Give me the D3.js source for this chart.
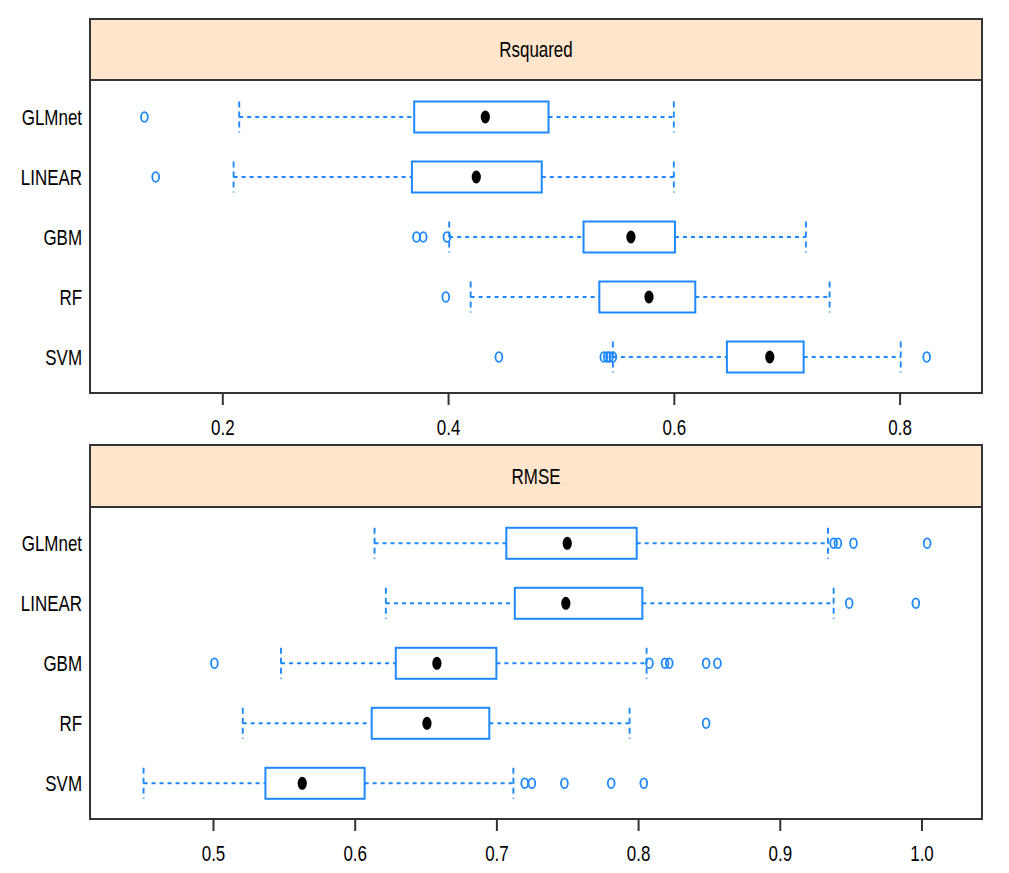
<!DOCTYPE html>
<html>
<head>
<meta charset="utf-8">
<script src="https://cdn.jsdelivr.net/npm/d3@7"></script>
<style>
  body { margin: 0; background: #fff; }
  text { font-family: "Liberation Sans", Arial, sans-serif; fill: #000; }
</style>
</head>
<body>
<script>
// models, top to bottom
var models = ["GLMnet", "LINEAR", "GBM", "RF", "SVM"];

// Rsquared: [lower whisker, q1, median, q3, upper whisker]
var rsqStats = [
  [0.215, 0.370, 0.433, 0.489, 0.600],
  [0.210, 0.368, 0.425, 0.483, 0.600],
  [0.401, 0.520, 0.562, 0.601, 0.717],
  [0.420, 0.534, 0.578, 0.619, 0.738],
  [0.546, 0.647, 0.685, 0.715, 0.801]
];
var rsqOutliers = [
  [0.131],
  [0.141],
  [0.372, 0.378, 0.399],
  [0.398],
  [0.445, 0.538, 0.541, 0.543, 0.546, 0.824]
];
var rsqTicks = [0.2, 0.4, 0.6, 0.8];

// RMSE
var rmseStats = [
  [0.614, 0.707, 0.750, 0.799, 0.934],
  [0.622, 0.713, 0.749, 0.803, 0.938],
  [0.548, 0.629, 0.658, 0.700, 0.806],
  [0.521, 0.612, 0.651, 0.695, 0.794],
  [0.451, 0.537, 0.563, 0.607, 0.712]
];
var rmseOutliers = [
  [0.938, 0.941, 0.952, 1.004],
  [0.949, 0.996],
  [0.501, 0.808, 0.819, 0.822, 0.848, 0.856],
  [0.848],
  [0.720, 0.725, 0.748, 0.781, 0.804]
];
var rmseTicks = [0.5, 0.6, 0.7, 0.8, 0.9, 1.0];

var blue = "#1e88ff";

var svg = d3.select("body").append("svg")
    .attr("width", 1009)
    .attr("height", 873);

function panel(opt) {
  var x = d3.scaleLinear().domain(opt.domain).range([90, 982]);
  var y = d3.scalePoint().domain(models).range(opt.rows);
  var g = svg.append("g");
  var boxH = 31;

  // strip
  g.append("rect")
      .attr("x", 90).attr("y", opt.top)
      .attr("width", 892).attr("height", opt.stripBottom - opt.top)
      .attr("fill", "#ffe5cc");
  g.append("line")
      .attr("x1", 90).attr("x2", 982)
      .attr("y1", opt.stripBottom).attr("y2", opt.stripBottom)
      .attr("stroke", "#333").attr("stroke-width", 2);
  g.append("g")
      .attr("transform", "translate(536," + ((opt.top + opt.stripBottom) / 2) + ")")
    .append("text")
      .attr("transform", "scale(0.77,1)")
      .attr("text-anchor", "middle")
      .attr("dy", "0.36em")
      .style("font-size", "22px")
      .text(opt.title);

  // y labels
  g.selectAll(".ylab").data(models).enter()
    .append("g")
      .attr("transform", function(d) { return "translate(82," + y(d) + ")"; })
    .append("text")
      .attr("transform", "scale(0.77,1)")
      .attr("text-anchor", "end")
      .attr("dy", "0.36em")
      .style("font-size", "22px")
      .text(function(d) { return d; });

  var rows = g.selectAll(".row").data(models).enter()
    .append("g")
      .attr("transform", function(d) { return "translate(0," + y(d) + ")"; });

  // whiskers
  rows.append("line")
      .attr("x1", function(d, i) { return x(opt.stats[i][0]); })
      .attr("x2", function(d, i) { return x(opt.stats[i][1]); })
      .attr("stroke", blue).attr("stroke-width", 1.9)
      .attr("stroke-dasharray", "4,4");
  rows.append("line")
      .attr("x1", function(d, i) { return x(opt.stats[i][3]); })
      .attr("x2", function(d, i) { return x(opt.stats[i][4]); })
      .attr("stroke", blue).attr("stroke-width", 1.9)
      .attr("stroke-dasharray", "4,4");
  [0, 4].forEach(function(k) {
    rows.append("line")
        .attr("x1", function(d, i) { return x(opt.stats[i][k]); })
        .attr("x2", function(d, i) { return x(opt.stats[i][k]); })
        .attr("y1", -boxH / 2).attr("y2", boxH / 2)
        .attr("stroke", blue).attr("stroke-width", 1.9)
        .attr("stroke-dasharray", "6,4");
  });

  // boxes
  rows.append("rect")
      .attr("x", function(d, i) { return x(opt.stats[i][1]); })
      .attr("width", function(d, i) { return x(opt.stats[i][3]) - x(opt.stats[i][1]); })
      .attr("y", -boxH / 2).attr("height", boxH)
      .attr("fill", "none").attr("stroke", blue).attr("stroke-width", 2);

  // medians
  rows.append("ellipse")
      .attr("cx", function(d, i) { return x(opt.stats[i][2]); })
      .attr("rx", 4.6).attr("ry", 6.5)
      .attr("fill", "#000");

  // outliers
  rows.each(function(d, i) {
    d3.select(this).selectAll("ellipse.out").data(opt.outliers[i]).enter()
      .append("ellipse")
        .attr("class", "out")
        .attr("cx", function(v) { return x(v); })
        .attr("rx", 3.4).attr("ry", 4.9)
        .attr("fill", "none").attr("stroke", blue).attr("stroke-width", 1.8);
  });

  // frame
  g.append("rect")
      .attr("x", 90).attr("y", opt.top)
      .attr("width", 892).attr("height", opt.bottom - opt.top)
      .attr("fill", "none").attr("stroke", "#333").attr("stroke-width", 2);

  // x axis
  var ax = g.append("g")
      .attr("transform", "translate(0," + opt.bottom + ")")
      .call(d3.axisBottom(x).tickValues(opt.ticks).tickSize(12)
        .tickFormat(d3.format(".1f")));
  ax.select(".domain").remove();
  ax.selectAll(".tick line").attr("stroke", "#333").attr("stroke-width", 2);
  ax.selectAll(".tick text")
      .attr("y", 34)
      .attr("dy", "0.36em")
      .attr("transform", "scale(0.77,1)")
      .style("font-size", "22px")
      .style("font-family", "'Liberation Sans', Arial, sans-serif")
      .attr("fill", "#000");
}

panel({
  title: "Rsquared", domain: [0.0828, 0.873], ticks: rsqTicks,
  stats: rsqStats, outliers: rsqOutliers,
  top: 19, stripBottom: 80, bottom: 393, rows: [117, 357]
});
panel({
  title: "RMSE", domain: [0.4132, 1.0427], ticks: rmseTicks,
  stats: rmseStats, outliers: rmseOutliers,
  top: 445, stripBottom: 507, bottom: 819, rows: [543.3, 783.3]
});
</script>
</body>
</html>
